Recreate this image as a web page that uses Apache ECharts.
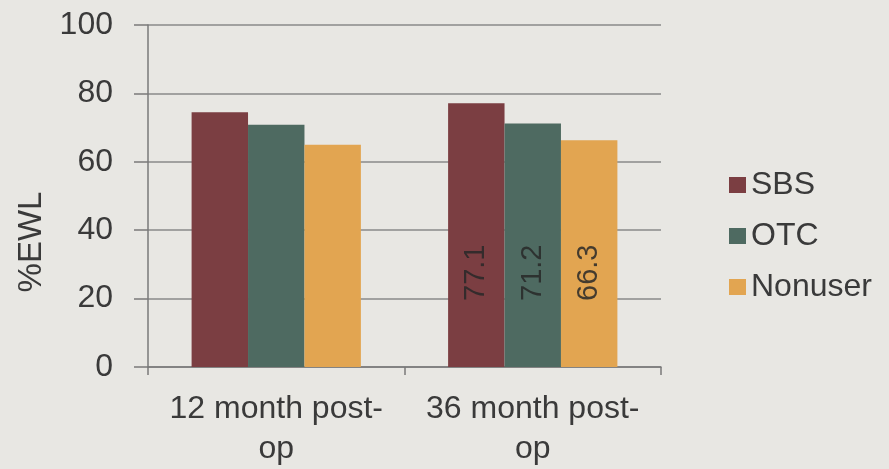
<!DOCTYPE html>
<html><head><meta charset="utf-8">
<script src="https://cdn.jsdelivr.net/npm/echarts@6/dist/echarts.min.js"></script>
<style>html,body{margin:0;padding:0;background:#e8e7e3;}#c{width:889px;height:469px;}</style>
</head><body><div id="c"></div>
<script>
const categories = ['12 month post-\nop', '36 month post-\nop'];
const seriesNames = ['SBS', 'OTC', 'Nonuser'];
const sbsValues = [74.5, 77.1];
const otcValues = [70.8, 71.2];
const nonuserValues = [65.0, 66.3];
const showLabel = [false, true];
const yTicks = [0, 20, 40, 60, 80, 100];
const colors = ['#7b3e42', '#4e6a61', '#e2a551'];

const font = 'Liberation Sans, Arial, sans-serif';
function mk(name, vals, color) {
  return {
    name: name, type: 'bar', barGap: '0%', barCategoryGap: '34%',
    itemStyle: { color: color },
    data: vals.map((v, i) => ({
      value: v,
      label: {
        show: showLabel[i], position: 'insideBottom', rotate: 90, distance: 66,
        align: 'left', verticalAlign: 'middle',
        formatter: '{c}', fontSize: 29, fontFamily: font, color: 'rgba(40,40,40,0.85)'
      }
    }))
  };
}
const chart = echarts.init(document.getElementById('c'));
chart.setOption({
  backgroundColor: '#e8e7e3',
  animation: false,
  grid: { left: 148, right: 228, top: 25, bottom: 101 },
  legend: {
    data: seriesNames, orient: 'vertical', left: 724, top: 164,
    itemWidth: 17, itemHeight: 16, itemGap: 19, icon: 'rect',
    textStyle: { fontSize: 32, fontFamily: font, color: '#3a3a3a' }
  },
  xAxis: {
    type: 'category', data: categories,
    axisLine: { lineStyle: { color: '#7a7a7a', width: 1.5 } },
    axisTick: { show: true, length: 8, lineStyle: { color: '#7a7a7a', width: 1.5 } },
    axisLabel: { fontSize: 32, fontFamily: font, color: '#3a3a3a', margin: 22, lineHeight: 40, interval: 0 }
  },
  yAxis: {
    type: 'value', min: 0, max: 100, interval: 20,
    name: '%EWL', nameLocation: 'middle', nameRotate: 90, nameGap: 100,
    nameTextStyle: { fontSize: 33, fontFamily: font, color: '#3a3a3a', padding: [0, 92, 0, 0] },
    axisLine: { show: true, lineStyle: { color: '#7a7a7a', width: 1.5 } },
    axisTick: { show: true, length: 14, lineStyle: { color: '#7a7a7a', width: 1.5 } },
    axisLabel: { fontSize: 32, fontFamily: font, color: '#3a3a3a', margin: 35,
      formatter: v => yTicks.includes(v) ? String(v) : '' },
    splitLine: { lineStyle: { color: '#8a8a8a', width: 1.5 } }
  },
  series: [
    mk(seriesNames[0], sbsValues, colors[0]),
    mk(seriesNames[1], otcValues, colors[1]),
    mk(seriesNames[2], nonuserValues, colors[2])
  ]
});
</script></body></html>
